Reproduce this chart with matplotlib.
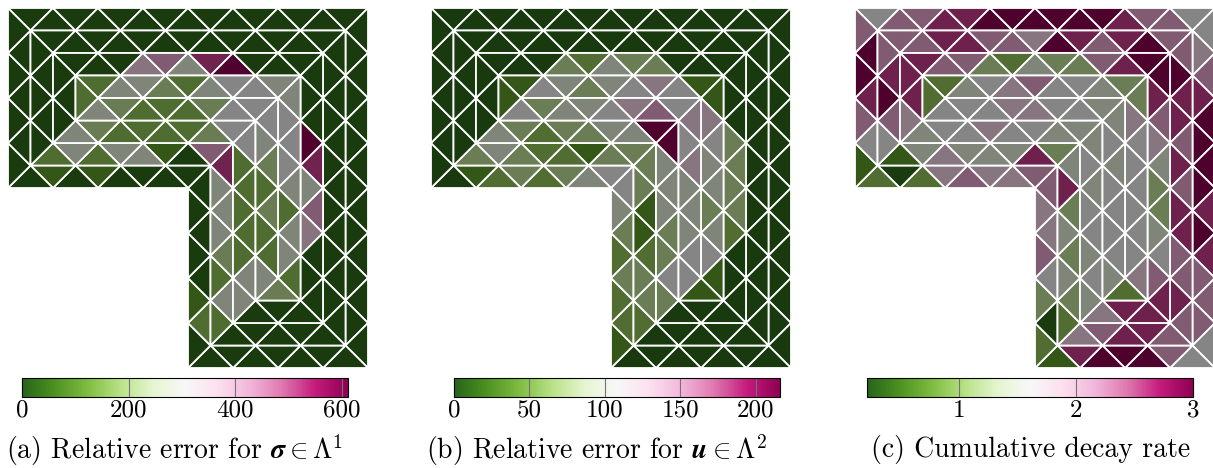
import numpy as np
import matplotlib
matplotlib.use("Agg")
import matplotlib.pyplot as plt
from matplotlib.collections import PolyCollection
from matplotlib.colors import ListedColormap, Normalize
from matplotlib.cm import ScalarMappable
from matplotlib.mathtext import MathTextParser

# values per triangle, ring by ring (outer ring first); inside a ring:
# top, right side, bottom of right arm, left of right arm, bottom of top arm, left end
a_ring0 = [12, 12, 12, 12, 12, 12, 12, 12, 12, 12, 12, 12, 12, 12, 12,
           12, 12, 12, 12, 12, 12, 12, 12, 12, 12, 12, 12, 12, 12, 12,
           12, 12, 12, 12, 12, 12, 12,
           12, 145, 85, 12, 12, 12, 12, 12,
           12, 12, 12, 12, 85, 12, 85, 12,
           12, 12, 12, 12, 12, 12, 12]
a_ring1 = [12, 12, 12, 12, 12, 12, 12, 12, 12, 12, 12, 12, 12,
           12, 12, 12, 12, 12, 12, 12, 12, 12, 12, 12, 12, 12,
           12, 12, 12, 12, 12,
           145, 270, 145, 200, 270, 270, 270, 525,
           440, 12, 85, 270, 270, 145, 270, 145,
           12, 12, 12, 12, 12]
a_ring2 = [12, 12, 12, 380, 440, 270, 525, 605, 12, 12, 12,
           12, 12, 12, 605, 525, 270, 440, 380, 12, 12, 12,
           12, 12, 12,
           270, 270, 145, 145, 145, 145, 145, 305,
           305, 200, 145, 145, 145, 145, 200, 270,
           12, 12, 12]
a_ring3 = [145, 270, 270, 200, 145, 270, 305, 305, 270,
           270, 305, 305, 305, 270, 145, 270, 270, 145,
           200,
           270, 145, 145, 200, 145, 200, 270, 305,
           305, 305, 200, 145, 145, 145, 200, 270,
           145]

b_ring0 = [4, 4, 4, 4, 4, 4, 4, 4, 4, 4, 4, 4, 4, 4, 4,
           4, 4, 4, 4, 4, 4, 4, 4, 4, 4, 4, 4, 4, 4, 4,
           4, 4, 4, 4, 4, 4, 4,
           30, 52, 52, 71, 52, 71, 95, 108,
           108, 95, 71, 52, 71, 52, 30, 4,
           4, 4, 4, 4, 4, 4, 4]
b_ring1 = [4, 4, 4, 4, 4, 4, 4, 4, 4, 4, 4, 4, 4,
           4, 4, 4, 4, 4, 4, 4, 4, 4, 4, 4, 4, 4,
           4, 4, 4, 4, 4,
           52, 71, 71, 52, 30, 30, 71, 71,
           71, 71, 30, 52, 52, 71, 95, 71,
           4, 4, 4, 4, 4]
b_ring2 = [4, 4, 4, 71, 52, 95, 71, 71, 4, 4, 4,
           4, 4, 4, 71, 71, 71, 71, 52, 4, 4, 4,
           4, 4, 4,
           71, 108, 71, 71, 95, 95, 95, 214,
           214, 95, 95, 71, 71, 52, 71, 95,
           4, 4, 4]
b_ring3 = [30, 108, 95, 71, 95, 108, 134, 108, 30,
           30, 134, 108, 95, 95, 71, 95, 108, 30,
           30,
           108, 108, 95, 95, 95, 134, 108, 134,
           108, 156, 134, 108, 95, 95, 71, 108,
           30]

c_ring0 = [1.6, 2.22, 2.22, 2.61, 2.61, 2.98, 2.98, 2.98, 2.98, 2.98, 2.98, 2.61, 2.22, 2.22, 1.6,
           1.6, 1.94, 2.22, 2.61, 2.98, 2.98, 2.98, 2.98, 2.61, 2.98, 2.61, 2.22, 2.22, 2.22, 1.6,
           1.6, 2.22, 2.98, 2.98, 2.98, 2.61, 0.6,
           0.88, 0.27, 1.13, 1.6, 2.22, 1.94, 1.94, 2.22,
           2.22, 1.94, 1.94, 2.22, 1.94, 0.88, 0.27, 0.88,
           0.6, 1.6, 2.22, 2.61, 2.98, 2.98, 2.22]
c_ring1 = [2.22, 2.22, 2.61, 2.61, 2.22, 2.22, 1.94, 2.98, 2.61, 2.22, 2.61, 2.98, 2.22,
           2.22, 2.98, 2.61, 2.61, 2.22, 2.61, 2.22, 2.61, 2.61, 2.22, 2.22, 2.61, 2.22,
           2.22, 2.61, 2.61, 2.22, 1.94,
           0.88, 1.13, 1.44, 1.13, 1.44, 1.13, 2.61, 1.44,
           1.13, 2.61, 1.44, 1.44, 1.44, 1.94, 1.44, 0.6,
           1.6, 2.22, 2.98, 2.61, 2.22]
c_ring2 = [2.61, 2.22, 2.22, 1.13, 0.88, 1.44, 1.13, 1.13, 2.22, 2.61, 2.98,
           2.98, 2.61, 2.22, 1.94, 1.44, 1.13, 1.13, 1.44, 1.6, 2.22, 2.61,
           2.61, 2.61, 1.94,
           1.44, 1.6, 1.44, 1.6, 1.6, 1.44, 1.6, 1.44,
           1.44, 1.44, 1.6, 1.6, 1.94, 1.6, 1.6, 1.44,
           1.94, 2.61, 2.61]
c_ring3 = [0.88, 1.44, 1.6, 1.94, 2.22, 1.6, 1.6, 1.44, 1.13,
           1.13, 1.94, 1.6, 1.6, 1.6, 1.6, 1.6, 1.6, 1.94,
           0.88,
           1.44, 1.6, 1.6, 1.6, 1.6, 1.44, 1.6, 1.44,
           1.44, 1.6, 1.6, 1.94, 1.94, 1.6, 1.6, 1.6,
           0.88]

a_range = (0, 611)
b_range = (0, 216)
c_range = (0.21, 3.0)
a_ticks = [0, 200, 400, 600]
b_ticks = [0, 50, 100, 150, 200]
c_ticks = [1, 2, 3]


def ring_triangles(r):
    # L-shaped domain [0,8]x[0,8] minus lower-left block, y pointing down
    d0 = r / 2
    d1 = d0 + 0.5
    tris = []
    n_o, n_i = 8 - r, 7 - r
    for k in range(n_o):  # top
        tris.append([(d0 + k, d0), (d0 + k + 1, d0), (d1 + k, d1)])
        if k < n_i:
            tris.append([(d1 + k, d1), (d1 + k + 1, d1), (d0 + k + 1, d0)])
    for k in range(n_o):  # right side
        tris.append([(8 - d0, d0 + k), (8 - d0, d0 + k + 1), (8 - d1, d1 + k)])
        if k < n_i:
            tris.append([(8 - d1, d1 + k), (8 - d1, d1 + k + 1), (8 - d0, d0 + k + 1)])
    n_o, n_i = 4 - r, 3 - r
    for k in range(n_o):  # bottom of right arm
        tris.append([(8 - d0 - k, 8 - d0), (7 - d0 - k, 8 - d0), (8 - d1 - k, 8 - d1)])
        if k < n_i:
            tris.append([(8 - d1 - k, 8 - d1), (7 - d1 - k, 8 - d1), (7 - d0 - k, 8 - d0)])
    for k in range(4):  # left of right arm
        tris.append([(4 + d0, 8 - d0 - k), (4 + d0, 7 - d0 - k), (4 + d1, 8 - d1 - k)])
        tris.append([(4 + d1, 8 - d1 - k), (4 + d1, 7 - d1 - k), (4 + d0, 7 - d0 - k)])
    for k in range(4):  # bottom of top arm
        tris.append([(4 + d1 - k, 4 - d1), (3 + d1 - k, 4 - d1), (4 + d0 - k, 4 - d0)])
        tris.append([(4 + d0 - k, 4 - d0), (3 + d0 - k, 4 - d0), (3 + d1 - k, 4 - d1)])
    for k in range(n_o):  # left end
        tris.append([(d0, 4 - d0 - k), (d0, 3 - d0 - k), (d1, 4 - d1 - k)])
        if k < n_i:
            tris.append([(d1, 4 - d1 - k), (d1, 3 - d1 - k), (d0, 3 - d0 - k)])
    return tris


base = plt.get_cmap("PiYG_r")(np.linspace(0, 1, 256))
base[:, :3] *= 0.54
mesh_cmap = ListedColormap(base)

plt.rcParams["font.family"] = "serif"
plt.rcParams["font.serif"] = ["cmr10", "DejaVu Serif"]
plt.rcParams["mathtext.fontset"] = "cm"
plt.rcParams["axes.formatter.use_mathtext"] = True


def math_ok(s):
    try:
        MathTextParser("agg").parse(s, dpi=100)
        return True
    except Exception:
        return False


bold = r"\boldsymbol" if math_ok(r"$\boldsymbol{\sigma}$") else r"\mathbf"

fig = plt.figure(figsize=(12.13, 4.68), dpi=100)
W, H = 1213, 468

panels = [
    ([a_ring0, a_ring1, a_ring2, a_ring3], a_range, a_ticks, 8, 22,
     r"(a) Relative error for $" + bold + r"{\sigma}\in\Lambda^1$", 175),
    ([b_ring0, b_ring1, b_ring2, b_ring3], b_range, b_ticks, 431, 454,
     r"(b) Relative error for $" + bold + r"{u}\in\Lambda^2$", 596),
    ([c_ring0, c_ring1, c_ring2, c_ring3], c_range, c_ticks, 855, 867,
     "(c) Cumulative decay rate", 1031),
]

for rings, rng, ticks, x0, cx0, caption, capx in panels:
    ax = fig.add_axes([x0 / W, (H - 368) / H, 360 / W, 360 / H])
    verts, vals = [], []
    for r, ring_vals in enumerate(rings):
        tris = ring_triangles(r)
        assert len(tris) == len(ring_vals), (r, len(tris), len(ring_vals))
        verts += tris
        vals += list(ring_vals)
    norm = Normalize(*rng)
    pc = PolyCollection(verts, cmap=mesh_cmap, norm=norm,
                        edgecolors="white", linewidths=1.3)
    pc.set_array(np.array(vals))
    pc.set_clip_on(False)
    ax.add_collection(pc)
    ax.set_xlim(0, 8)
    ax.set_ylim(8, 0)
    ax.axis("off")

    cax = fig.add_axes([cx0 / W, (H - 397) / H, 326 / W, 19 / H])
    cb = fig.colorbar(ScalarMappable(norm=norm, cmap="PiYG_r"), cax=cax,
                      orientation="horizontal", ticks=ticks)
    cb.outline.set_linewidth(0.8)
    cax.tick_params(axis="x", direction="in", length=13.7, width=0.8,
                    color="0.45", labelsize=18, pad=2)
    cax.set_xticklabels([str(t) for t in ticks])

    fig.text(capx / W, (H - 450) / H, caption, ha="center", va="center",
             fontsize=20)

fig.savefig("out.png", dpi=100)
